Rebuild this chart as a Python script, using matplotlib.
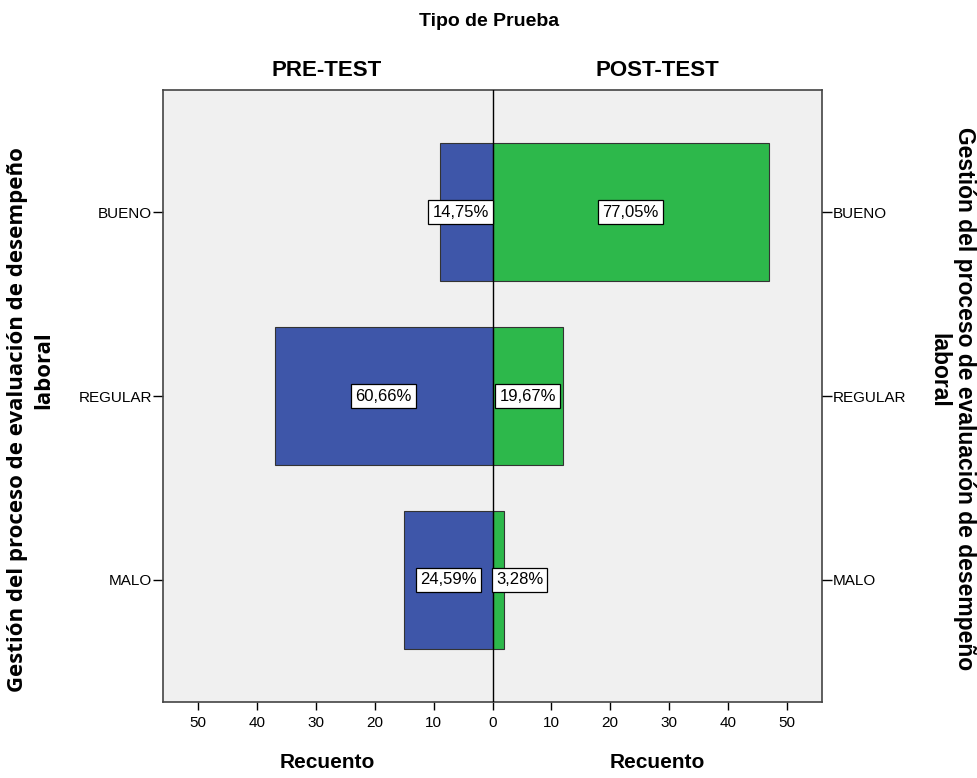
import numpy as np
import matplotlib
matplotlib.use("Agg")
import matplotlib.pyplot as plt

# datos
categorias = ["BUENO", "REGULAR", "MALO"]
pre_test = [9, 37, 15]
post_test = [47, 12, 2]
pre_pct = ["14,75%", "60,66%", "24,59%"]
post_pct = ["77,05%", "19,67%", "3,28%"]
ticks = [50, 40, 30, 20, 10, 0, 10, 20, 30, 40, 50]

plt.rcParams['font.family'] = ['Liberation Sans', 'DejaVu Sans']

azul = '#3E56A9'
verde = '#2DB84B'
fondo = '#F0F0F0'

fig = plt.figure(figsize=(9.78, 7.78), dpi=100)
ax = fig.add_axes([0.1667, 0.0977, 0.6738, 0.7866])
ax.set_facecolor(fondo)

y = np.arange(len(categorias))
h = 0.75
ax.barh(y, [-v for v in pre_test], height=h, color=azul, edgecolor='#333333', linewidth=0.8, zorder=2)
ax.barh(y, post_test, height=h, color=verde, edgecolor='#333333', linewidth=0.8, zorder=2)
ax.axvline(0, color='black', lw=1, zorder=3)

box = dict(boxstyle='square,pad=0.25', fc='white', ec='black', lw=0.9)
for i in range(len(categorias)):
    if pre_test[i] >= 11:
        ax.text(-pre_test[i] / 2, y[i], pre_pct[i], ha='center', va='center', fontsize=12, bbox=box, zorder=4)
    else:
        ax.text(-0.6, y[i], pre_pct[i], ha='right', va='center', fontsize=12, bbox=box, zorder=4)
    if post_test[i] >= 11:
        ax.text(post_test[i] / 2, y[i], post_pct[i], ha='center', va='center', fontsize=12, bbox=box, zorder=4)
    else:
        ax.text(0.6, y[i], post_pct[i], ha='left', va='center', fontsize=12, bbox=box, zorder=4)

ax.set_xlim(-56, 56)
ax.set_ylim(2.663, -0.663)
xt = [-50, -40, -30, -20, -10, 0, 10, 20, 30, 40, 50]
ax.set_xticks(xt)
ax.set_xticklabels([str(t) for t in ticks], fontsize=11)
ax.set_yticks(y)
ax.set_yticklabels(categorias, fontsize=11)
ax.tick_params(axis='x', length=6, width=1, pad=4)
ax.tick_params(axis='y', length=7, width=1, pad=1)
for s in ax.spines.values():
    s.set_color('#444444')
    s.set_linewidth(1.2)

ax2 = ax.twinx()
ax2.set_ylim(ax.get_ylim())
ax2.set_yticks(y)
ax2.set_yticklabels(categorias, fontsize=11)
ax2.tick_params(axis='y', length=7, width=1, pad=1)
for s in ax2.spines.values():
    s.set_visible(False)

fig.text(0.5, 1-22/778, "Tipo de Prueba", ha='center', va='center', fontsize=14, fontweight='bold')
fig.text(327/978, 1-70/778, "PRE-TEST", ha='center', va='center', fontsize=16, fontweight='bold')
fig.text(657/978, 1-70/778, "POST-TEST", ha='center', va='center', fontsize=16, fontweight='bold')
fig.text(327/978, 1-762/778, "Recuento", ha='center', va='center', fontsize=15, fontweight='bold')
fig.text(657/978, 1-762/778, "Recuento", ha='center', va='center', fontsize=15, fontweight='bold')

linea1 = "Gestión del proceso de evaluación de desempeño"
linea2 = "laboral"
opensans = ['Open Sans', 'Liberation Sans']
fig.text(18/978, 1-420/778, linea1, ha='center', va='center', rotation=90, fontsize=16,
         fontweight='bold', family=opensans)
fig.text(44/978, 1-370/778, linea2, ha='center', va='center', rotation=90, fontsize=16,
         fontweight='bold', family=opensans)
fig.text(965/978, 1-399/778, linea1, ha='center', va='center', rotation=270, fontsize=16.5,
         fontweight='bold')
fig.text(939/978, 1-370/778, linea2, ha='center', va='center', rotation=270, fontsize=16.5,
         fontweight='bold')

fig.savefig("out.png", dpi=100, facecolor='white')
